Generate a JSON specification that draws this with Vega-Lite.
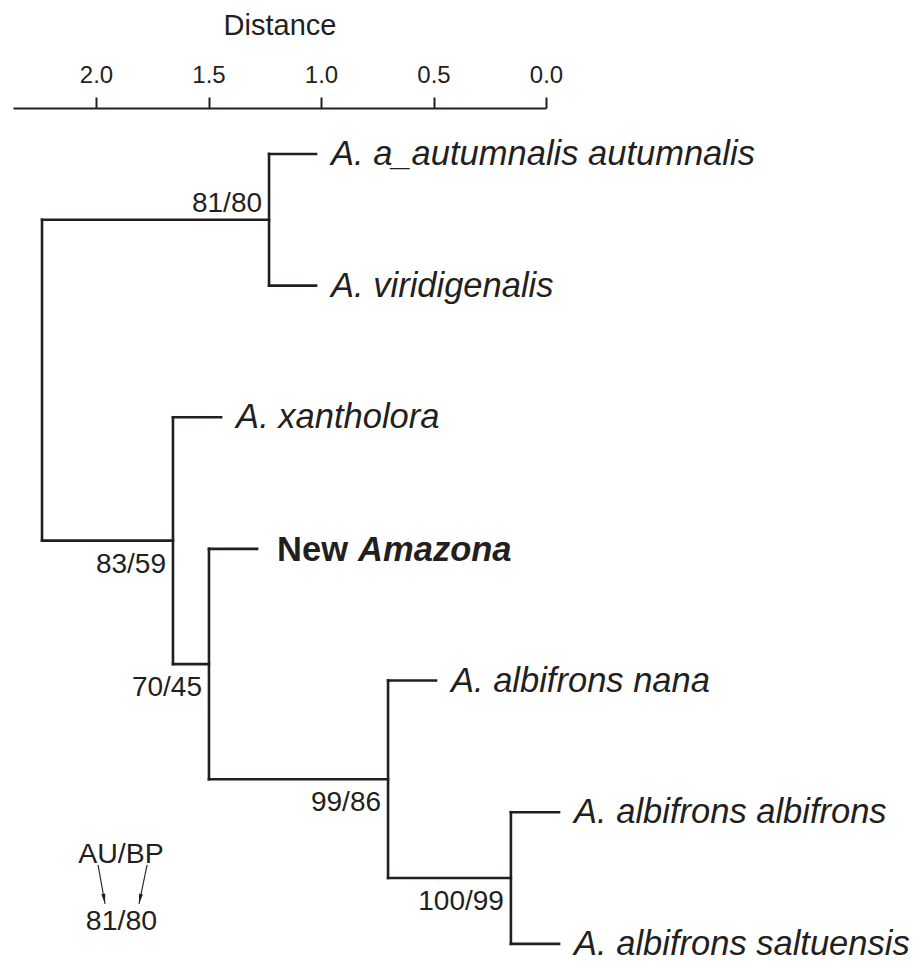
{
  "$schema": "https://vega.github.io/schema/vega-lite/v6.json",
  "width": 533,
  "height": 849,
  "autosize": {"type": "none"},
  "padding": {"left": 13, "top": 108, "right": 367, "bottom": 6},
  "background": "white",
  "config": {"view": {"stroke": null}, "font": "Liberation Sans"},
  "datasets": {
    "segments": [
      {"x": 2.24, "x2": 2.24, "y": 0.5, "y2": 2.9375},
      {"x": 1.231, "x2": 1.231, "y": 0, "y2": 1},
      {"x": 1.658, "x2": 1.658, "y": 2, "y2": 3.875},
      {"x": 1.498, "x2": 1.498, "y": 3, "y2": 4.75},
      {"x": 0.702, "x2": 0.702, "y": 4, "y2": 5.5},
      {"x": 0.156, "x2": 0.156, "y": 5, "y2": 6},
      {"x": 2.24, "x2": 1.231, "y": 0.5, "y2": 0.5},
      {"x": 2.24, "x2": 1.658, "y": 2.9375, "y2": 2.9375},
      {"x": 1.658, "x2": 1.498, "y": 3.875, "y2": 3.875},
      {"x": 1.498, "x2": 0.702, "y": 4.75, "y2": 4.75},
      {"x": 0.702, "x2": 0.156, "y": 5.5, "y2": 5.5},
      {"x": 1.231, "x2": 1.022, "y": 0, "y2": 0},
      {"x": 1.231, "x2": 1.022, "y": 1, "y2": 1},
      {"x": 1.658, "x2": 1.444, "y": 2, "y2": 2},
      {"x": 1.498, "x2": 1.284, "y": 3, "y2": 3},
      {"x": 0.702, "x2": 0.489, "y": 4, "y2": 4},
      {"x": 0.156, "x2": -0.058, "y": 5, "y2": 5},
      {"x": 0.156, "x2": -0.058, "y": 6, "y2": 6}
    ],
    "leaves": [
      {"label": "A. a_autumnalis autumnalis", "x": 1.022, "y": 0},
      {"label": "A. viridigenalis", "x": 1.022, "y": 1},
      {"label": "A. xantholora", "x": 1.444, "y": 2},
      {"label": "A. albifrons nana", "x": 0.489, "y": 4},
      {"label": "A. albifrons albifrons", "x": -0.058, "y": 5},
      {"label": "A. albifrons saltuensis", "x": -0.058, "y": 6}
    ],
    "newtaxon": [
      {"word": "New", "style": "normal", "x": 1.284, "y": 3},
      {"word": "Amazona", "style": "italic", "x": 1.284, "y": 3}
    ],
    "support": [
      {"label": "81/80", "x": 1.231, "y": 0.5, "pos": "above"},
      {"label": "83/59", "x": 1.658, "y": 2.9375, "pos": "below"},
      {"label": "70/45", "x": 1.498, "y": 3.875, "pos": "below"},
      {"label": "99/86", "x": 0.702, "y": 4.75, "pos": "below"},
      {"label": "100/99", "x": 0.156, "y": 5.5, "pos": "below"}
    ],
    "key": [
      {"label": "AU/BP", "x": 1.889, "y": 5.385},
      {"label": "81/80", "x": 1.887, "y": 5.894}
    ],
    "arrows": [
      {"x": 1.991, "y": 5.4, "x2": 1.96, "y2": 5.696, "angle": -10},
      {"x": 1.773, "y": 5.4, "x2": 1.809, "y2": 5.696, "angle": 11.6}
    ]
  },
  "encoding": {
    "x": {
      "field": "x",
      "type": "quantitative",
      "scale": {"domain": [0, 2.369], "reverse": true, "nice": false, "zero": false},
      "axis": {
        "orient": "top",
        "title": "Distance",
        "values": [0, 0.5, 1, 1.5, 2],
        "format": ".1f",
        "grid": false,
        "labelFont": "Liberation Sans",
        "labelFontSize": 24,
        "labelColor": "#231f20",
        "labelPadding": 10,
        "labelFlush": false,
        "labelOverlap": false,
        "tickSize": 11,
        "tickWidth": 2,
        "tickColor": "#231f20",
        "domainWidth": 2,
        "domainColor": "#231f20",
        "titleFont": "Liberation Sans",
        "titleFontSize": 29,
        "titleFontWeight": "normal",
        "titleColor": "#231f20",
        "titleBaseline": "alphabetic",
        "titleY": -74
      }
    },
    "y": {
      "field": "y",
      "type": "quantitative",
      "scale": {"domain": [-0.349, 6.1], "reverse": true, "nice": false, "zero": false},
      "axis": null
    }
  },
  "layer": [
    {
      "data": {"name": "segments"},
      "mark": {"type": "rule", "strokeWidth": 2.6, "color": "#231f20", "strokeCap": "square"},
      "encoding": {"x2": {"field": "x2"}, "y2": {"field": "y2"}}
    },
    {
      "data": {"name": "leaves"},
      "mark": {"type": "text", "align": "left", "baseline": "alphabetic", "dx": 15, "dy": 11, "fontSize": 34.5, "fontStyle": "italic", "font": "Liberation Sans", "color": "#231f20"},
      "encoding": {"text": {"field": "label"}}
    },
    {
      "data": {"name": "newtaxon"},
      "transform": [{"filter": "datum.word === 'New'"}],
      "mark": {"type": "text", "align": "left", "baseline": "alphabetic", "dx": 20, "dy": 12, "fontSize": 34.5, "fontWeight": "bold", "font": "Liberation Sans", "color": "#231f20"},
      "encoding": {"text": {"field": "word"}}
    },
    {
      "data": {"name": "newtaxon"},
      "transform": [{"filter": "datum.word === 'Amazona'"}],
      "mark": {"type": "text", "align": "left", "baseline": "alphabetic", "dx": 101, "dy": 12, "fontSize": 34.5, "fontWeight": "bold", "fontStyle": "italic", "font": "Liberation Sans", "color": "#231f20"},
      "encoding": {"text": {"field": "word"}}
    },
    {
      "data": {"name": "support"},
      "transform": [{"filter": "datum.pos === 'above'"}],
      "mark": {"type": "text", "align": "right", "baseline": "alphabetic", "dx": -7, "dy": -8, "fontSize": 28, "font": "Liberation Sans", "color": "#231f20"},
      "encoding": {"text": {"field": "label"}}
    },
    {
      "data": {"name": "support"},
      "transform": [{"filter": "datum.pos === 'below'"}],
      "mark": {"type": "text", "align": "right", "baseline": "alphabetic", "dx": -7, "dy": 32, "fontSize": 28, "font": "Liberation Sans", "color": "#231f20"},
      "encoding": {"text": {"field": "label"}}
    },
    {
      "data": {"name": "key"},
      "mark": {"type": "text", "align": "center", "baseline": "alphabetic", "fontSize": 28.5, "font": "Liberation Sans", "color": "#231f20"},
      "encoding": {"text": {"field": "label"}}
    },
    {
      "data": {"name": "arrows"},
      "mark": {"type": "rule", "strokeWidth": 1.1, "color": "#231f20"},
      "encoding": {"x2": {"field": "x2"}, "y2": {"field": "y2"}}
    },
    {
      "data": {"name": "arrows"},
      "mark": {"type": "point", "shape": "M-0.4,-2L0.4,-2L0,0Z", "filled": true, "size": 100, "color": "#231f20", "opacity": 1},
      "encoding": {
        "x": {"field": "x2", "type": "quantitative"},
        "y": {"field": "y2", "type": "quantitative"},
        "angle": {"field": "angle", "type": "quantitative", "scale": null}
      }
    }
  ]
}
